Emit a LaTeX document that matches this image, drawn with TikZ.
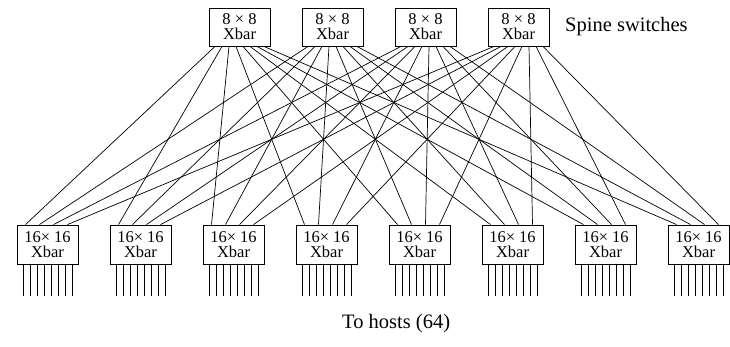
\documentclass[tikz,border=0pt]{standalone}
\usepackage{fontspec}
\setmainfont{Liberation Serif}
\begin{document}
\begin{tikzpicture}[x=1pt,y=-1pt,
  switchbox/.style={draw, line width=0.9pt, inner sep=0pt, minimum width=61pt,
    align=center, font=\fontsize{16.5}{15}\selectfont},
  spinebox/.style={switchbox, minimum height=38pt},
  leafbox/.style={switchbox, minimum height=39pt},
  wire/.style={line width=0.7pt},
  caption/.style={font=\fontsize{20.5}{24}\selectfont, inner sep=0pt}]
  \useasboundingbox (0,0) rectangle (730,347);

  % spine switches
  \foreach \i in {1,...,4}
    \node[spinebox] (s\i) at ({239.5+93*(\i-1)},27) {8 × 8\\Xbar};

  % leaf switches
  \foreach \j in {1,...,8}
    \node[leafbox] (l\j) at ({47.5+93*(\j-1)},244.5) {16× 16\\Xbar};

  % every spine reaches every leaf
  \foreach \i in {1,...,4}
    \foreach \j in {1,...,8} {
      \pgfmathsetmacro{\dtop}{-24.5+7*(\j-1)}
      \pgfmathsetmacro{\dbot}{-22+14*(\i-1)}
      \draw[wire] ([xshift=\dtop pt]s\i.south) -- ([xshift=\dbot pt]l\j.north);
    }

  % host ports below each leaf
  \foreach \j in {1,...,8}
    \foreach \k in {0,...,7} {
      \pgfmathsetmacro{\dh}{-24.5+7*\k}
      \draw[wire] ([xshift=\dh pt]l\j.south) -- ++(0,32);
    }

  \node[caption, anchor=base west] (spinelabel) at (565,32) {Spine switches};
  \node[caption, anchor=base west] (hostlabel) at (342,328) {To hosts (64)};
\end{tikzpicture}
\end{document}
